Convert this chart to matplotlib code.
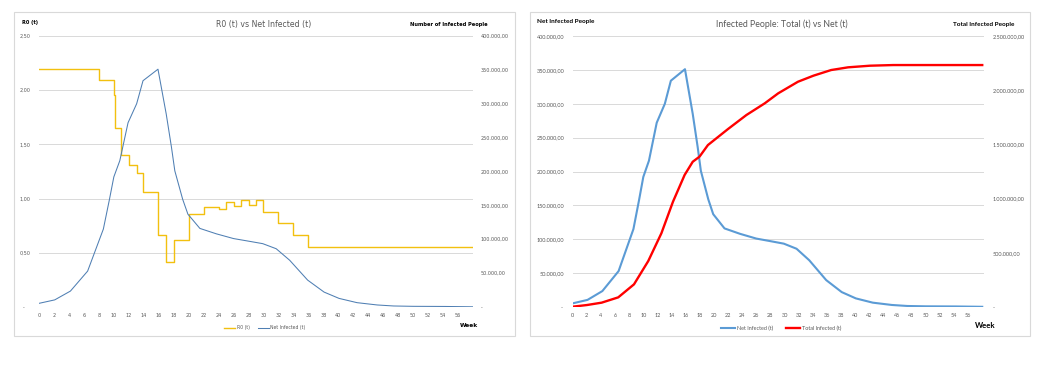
import matplotlib
matplotlib.use('Agg')
import matplotlib.pyplot as plt
from matplotlib.patches import Rectangle
from matplotlib.ticker import FuncFormatter

W, H = 1042, 373

# x axis labels (weeks)
week_ticks = list(range(0, 57, 2))

# R0(t) step values, each holds from its week until the next one
r0_weeks = [0, 8, 10, 10.15, 10.9, 12, 13.05, 13.95, 15.95, 17, 18, 20, 22, 24, 25, 26.05,
            27, 28.05, 29, 30, 32, 34, 36, 58]
r0_values = [2.20, 2.09, 1.96, 1.655, 1.405, 1.31, 1.235, 1.058, 0.664, 0.412, 0.618, 0.855,
             0.925, 0.905, 0.968, 0.93, 0.987, 0.94, 0.987, 0.874, 0.774, 0.665, 0.552, 0.552]

# net infected people per week
net_weeks = [0, 2.1, 4.2, 6.5, 8.6, 9.4, 10.0, 10.8, 11.9, 13.05, 13.9, 15.9, 16.8, 17.0,
             17.7, 18.15, 19.2, 19.9, 21.5, 23.7, 26.0, 28.1, 29.9, 31.7, 33.5, 35.9, 38.1,
             40.1, 42.5, 45.2, 47.4, 50.0, 54.3, 58.0]
net_infected = [5400, 10500, 23500, 53000, 115000, 158000, 192000, 216000, 272000, 300000,
                334000, 351000, 297000, 285000, 236000, 201000, 159000, 137000, 116000,
                108000, 101000, 97000, 93500, 86000, 69000, 39700, 22000, 12700, 6400, 3000,
                1500, 1000, 800, 300]

# total (cumulative) infected people
total_weeks = [0, 2.0, 4.1, 6.45, 8.68, 10.7, 12.56, 14.2, 15.85, 17.0, 17.96, 19.15, 22.0,
               24.6, 27.2, 29.1, 31.9, 34.1, 36.6, 39.0, 42.1, 45.4, 58.0]
total_infected = [3000, 18000, 40000, 89000, 209000, 424000, 680000, 971000, 1218000,
                  1340000, 1387000, 1494000, 1642000, 1771000, 1879000, 1971000, 2078000,
                  2134000, 2186000, 2211000, 2226000, 2232000, 2232000]

GRID = '#d9d9d9'
TXT = '#595959'


def eu(v):
    s = f"{v:,.2f}"
    return s.replace(',', 'X').replace('.', ',').replace('X', '.')


def fmt(zero):
    return FuncFormatter(lambda v, pos: zero if abs(v) < 1e-9 else eu(v))


def px_axes(fig, x0, x1, y0, y1):
    return fig.add_axes([x0 / W, 1 - y1 / H, (x1 - x0) / W, (y1 - y0) / H])


def frame(fig, x0, x1, y0, y1):
    fig.patches.append(Rectangle((x0 / W, 1 - y1 / H), (x1 - x0) / W, (y1 - y0) / H,
                                 transform=fig.transFigure, facecolor='white',
                                 edgecolor=GRID, linewidth=0.8, zorder=-10))


def ftext(fig, x, y, s, **kw):
    fig.text(x / W, 1 - y / H, s, **kw)


def style(ax, size, family, pad):
    for sp in ax.spines.values():
        sp.set_visible(False)
    ax.tick_params(axis='both', length=0, labelsize=size, labelcolor=TXT)
    ax.tick_params(axis='y', pad=pad)
    ax.tick_params(axis='x', pad=4)
    for lab in ax.get_xticklabels() + ax.get_yticklabels():
        lab.set_family(family)


fig = plt.figure(figsize=(W / 100, H / 100), dpi=100)
fig.patch.set_facecolor('white')

# ---------------- left chart ----------------
frame(fig, 14, 515, 12, 336)
ax = px_axes(fig, 39, 473, 36, 307)
ax.set_xlim(0, 58)
ax.set_ylim(0, 2.5)
ax.set_yticks([0, 0.5, 1.0, 1.5, 2.0, 2.5])
ax.yaxis.set_major_formatter(fmt('-    '))
ax.set_xticks(week_ticks)
ax.grid(axis='y', color=GRID, linewidth=0.7)
ax.set_axisbelow(True)
l1, = ax.step(r0_weeks, r0_values, where='post', color='#f2c00f', linewidth=1.0)
style(ax, 3.5, 'DejaVu Sans', 6)

ax2 = ax.twinx()
ax2.set_ylim(0, 400000)
ax2.set_yticks(range(0, 400001, 50000))
ax2.yaxis.set_major_formatter(fmt('-'))
l2, = ax2.plot(net_weeks, net_infected, color='#4f7fb3', linewidth=0.75)
style(ax2, 3.5, 'DejaVu Sans', 5.5)

ftext(fig, 264, 24, 'R0 (t) vs Net Infected (t)', ha='center', va='center',
      fontsize=5.6, color=TXT, family='DejaVu Sans')
ftext(fig, 22.5, 22.5, 'R0 (t)', ha='left', va='center', fontsize=3.6,
      weight='bold', family='DejaVu Sans')
ftext(fig, 410.5, 24.3, 'Number of Infected People', ha='left', va='center',
      fontsize=3.7, weight='bold', family='DejaVu Sans')
ftext(fig, 460, 325.7, 'Week', ha='left', va='center', fontsize=4.2,
      weight='bold', family='DejaVu Sans')
fig.legend([l1, l2], ['R0 (t)', 'Net Infected (t)'], loc='center',
           bbox_to_anchor=(265 / W, 1 - 327.7 / H), ncol=2, frameon=False,
           prop={'family': 'DejaVu Sans', 'size': 3.3}, labelcolor=TXT,
           handlelength=2.4, handletextpad=0.4, columnspacing=1.6)

# ---------------- right chart ----------------
frame(fig, 530, 1030, 12, 336)
bx = px_axes(fig, 572.7, 984, 36, 307)
bx.set_xlim(0, 58.25)
bx.set_ylim(0, 400000)
bx.set_yticks(range(0, 400001, 50000))
bx.yaxis.set_major_formatter(fmt('- '))
bx.set_xticks(week_ticks)
bx.grid(axis='y', color=GRID, linewidth=0.7)
bx.set_axisbelow(True)
m1, = bx.plot(net_weeks, net_infected, color='#5b9bd5', linewidth=1.5)
style(bx, 4, 'Lato', 6)

bx2 = bx.twinx()
bx2.set_ylim(0, 2500000)
bx2.set_yticks(range(0, 2500001, 500000))
bx2.yaxis.set_major_formatter(fmt('-'))
m2, = bx2.plot(total_weeks, total_infected, color='#ff0000', linewidth=1.7)
style(bx2, 4, 'Lato', 6)

ftext(fig, 781.7, 24, 'Infected People: Total (t) vs Net (t)', ha='center', va='center',
      fontsize=6.3, color=TXT, family='Lato')
ftext(fig, 536.7, 21.7, 'Net Infected People', ha='left', va='center', fontsize=4.6,
      weight='bold', family='Lato')
ftext(fig, 953, 24.3, 'Total Infected People', ha='left', va='center', fontsize=4.6,
      weight='bold', family='Lato')
ftext(fig, 975, 325.5, 'Week', ha='left', va='center', fontsize=5.6,
      weight='bold', family='Lato')
fig.legend([m1, m2], ['Net Infected (t)', 'Total Infected (t)'], loc='center',
           bbox_to_anchor=(781 / W, 1 - 328 / H), ncol=2, frameon=False,
           prop={'family': 'Lato', 'size': 3.9}, labelcolor=TXT,
           handlelength=2.6, handletextpad=0.4, columnspacing=2.4)

fig.savefig('out.png', dpi=100, facecolor='white')
